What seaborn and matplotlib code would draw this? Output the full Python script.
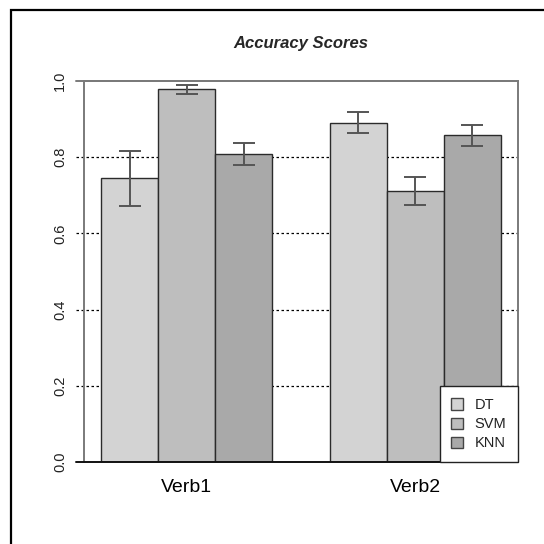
import numpy as np
import pandas as pd
import seaborn as sns
import matplotlib
matplotlib.use('Agg')
import matplotlib.pyplot as plt
from matplotlib.patches import Rectangle, Patch


VERBS = ['Verb1', 'Verb2']
MODELS = ['DT', 'SVM', 'KNN']
# mean accuracy per model, one list per verb
SCORES = {
    'Verb1': [0.745, 0.978, 0.808],
    'Verb2': [0.891, 0.711, 0.857],
}
# half-width of the error bars
ERRORS = {
    'Verb1': [0.072, 0.012, 0.029],
    'Verb2': [0.028, 0.037, 0.028],
}
Y_TICKS = [0.0, 0.2, 0.4, 0.6, 0.8, 1.0]
BAR_COLORS = ['#d3d3d3', '#bebebe', '#a9a9a9']


def main():
    sns.set_style('white')
    plt.rcParams['font.family'] = ['Liberation Sans', 'DejaVu Sans']

    df = pd.DataFrame([
        {'verb': verb, 'model': model, 'score': SCORES[verb][i],
         'err': ERRORS[verb][i]}
        for verb in VERBS for i, model in enumerate(MODELS)])

    fig = plt.figure(figsize=(5.44, 5.44), dpi=100)
    # outer device frame
    fig.patches.append(Rectangle(
        (11 / 544, -0.1), 1.2, 1 - 10 / 544 + 0.1, transform=fig.transFigure,
        fill=False, edgecolor='black', linewidth=1.6))

    ax = fig.add_axes([84 / 544, 82 / 544, 434 / 544, 381 / 544])
    sns.barplot(data=df, x='verb', y='score', hue='model', order=VERBS,
                hue_order=MODELS, palette=BAR_COLORS, width=0.75,
                errorbar=None, edgecolor='#2b2b2b', linewidth=1.0,
                saturation=1, legend=False, ax=ax, zorder=2)

    # error bars at each bar centre
    for cont, model in zip(ax.containers, MODELS):
        for bar, verb in zip(cont, VERBS):
            row = df[(df.verb == verb) & (df.model == model)].iloc[0]
            ax.errorbar(bar.get_x() + bar.get_width() / 2, row.score,
                        yerr=row.err, fmt='none', ecolor='#555555',
                        elinewidth=1.4, capsize=8, capthick=1.4, zorder=3)

    ax.set_xlim(-0.45, 1.45)
    ax.set_ylim(0, 1)
    ax.set_xlabel('')
    ax.set_ylabel('')

    # dotted reference lines that also serve as ticks
    ext = -8 / 434
    for y in Y_TICKS[1:-1]:
        ax.axhline(y, xmin=ext, xmax=1, color='black', linestyle=(0, (2, 2)),
                   linewidth=0.9, clip_on=False, zorder=1)
    ax.axhline(1.0, xmin=ext, xmax=1, color='#7a7a7a', linewidth=1.4,
               clip_on=False, zorder=4)
    ax.axhline(0.0, xmin=ext, xmax=1, color='#111111', linewidth=1.4,
               clip_on=False, zorder=4)

    for side in ['left', 'right', 'top']:
        ax.spines[side].set_color('#7a7a7a')
        ax.spines[side].set_linewidth(1.4)
    ax.spines['bottom'].set_visible(False)

    ax.set_yticks(Y_TICKS)
    ax.set_yticklabels(['{:.1f}'.format(t) for t in Y_TICKS])
    ax.tick_params(axis='y', length=0, pad=12, labelsize=10.5,
                   labelrotation=90, labelcolor='#222222')
    for lbl in ax.get_yticklabels():
        lbl.set_va('center')
    ax.tick_params(axis='x', length=0, pad=12, labelsize=14,
                   labelcolor='black')

    ax.set_title('Accuracy Scores', fontsize=12, fontweight='bold',
                 fontstyle='italic', pad=24)

    handles = [Patch(facecolor=c, edgecolor='#444444', linewidth=1.0)
               for c in BAR_COLORS]
    leg = ax.legend(handles, MODELS, loc='lower right', fontsize=10.5,
                    frameon=True, fancybox=False, framealpha=1,
                    borderaxespad=0, handlelength=0.8, handleheight=0.8,
                    handletextpad=0.8, borderpad=0.8, labelspacing=0.35)
    leg.get_frame().set_edgecolor('#222222')
    leg.get_frame().set_facecolor('white')
    leg.get_frame().set_linewidth(1.0)
    leg.set_zorder(5)
    for txt in leg.get_texts():
        txt.set_color('#222222')

    fig.savefig('out.png', dpi=100)
    plt.close(fig)


if __name__ == '__main__':
    main()
